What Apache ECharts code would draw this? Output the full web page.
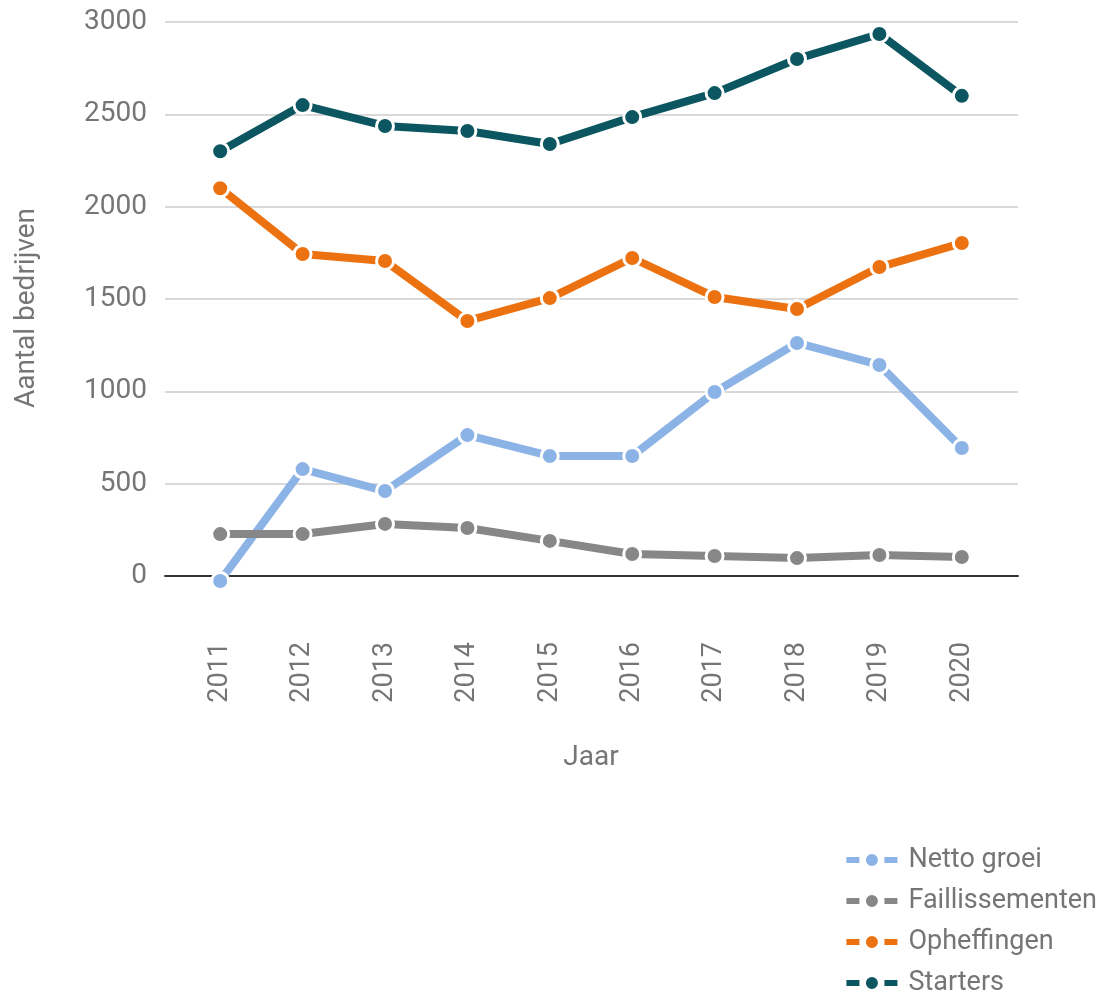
<!DOCTYPE html>
<html>
<head>
<meta charset="utf-8">
<script src="https://cdn.jsdelivr.net/npm/echarts@6/dist/echarts.min.js"></script>
<style>html,body{margin:0;padding:0;background:#fff}#c{width:1103px;height:998px}</style>
</head>
<body>
<div id="c"></div>
<script>
const years = ['2011','2012','2013','2014','2015','2016','2017','2018','2019','2020'];
const nettoGroei = [-27, 579, 460, 763, 650, 650, 996, 1262, 1143, 693];
const faillissementen = [227, 227, 282, 260, 190, 119, 108, 97, 114, 103];
const opheffingen = [2100, 1744, 1706, 1381, 1505, 1722, 1511, 1446, 1673, 1803];
const starters = [2300, 2550, 2437, 2410, 2339, 2485, 2615, 2800, 2935, 2600];
const yTicks = {min: 0, max: 3000, interval: 500};

const FONT = 'Roboto';
const GRAY = '#757575';
const iconPath = 'path://M0,3L13,3L13,9L0,9Z M19.5,6A6,6 0 1,1 31.5,6A6,6 0 1,1 19.5,6Z M38,3L51,3L51,9L38,9Z';

function mk(name, data, color) {
  return {
    name, type: 'line', data, xAxisIndex: 1, yAxisIndex: 1,
    clip: false,
    symbol: 'circle', symbolSize: 17, showSymbol: true,
    lineStyle: {color, width: 8},
    itemStyle: {color, borderColor: '#fff', borderWidth: 3},
    emphasis: {disabled: true},
    animation: false
  };
}

const chart = echarts.init(document.getElementById('c'), null, {renderer: 'canvas'});
chart.setOption({
  animation: false,
  textStyle: {fontFamily: FONT},
  grid: [
    {left: 165, right: 85, top: 22, bottom: 422},
    {left: 179, right: 100, top: 22, bottom: 422}
  ],
  xAxis: [
    {gridIndex: 0, type: 'category', data: years, axisLabel: {show: false}, axisTick: {show: false},
     axisLine: {show: true, lineStyle: {color: '#333', width: 2}}},
    {gridIndex: 1, type: 'category', data: years,
     axisLine: {show: false}, axisTick: {show: false},
     axisLabel: {rotate: 90, margin: 66, color: GRAY, fontSize: 27, fontFamily: FONT},
     name: 'Jaar', nameLocation: 'middle', nameGap: 168,
     nameTextStyle: {color: GRAY, fontSize: 28, fontFamily: FONT}}
  ],
  yAxis: [
    {gridIndex: 0, type: 'value', min: yTicks.min, max: yTicks.max, interval: yTicks.interval,
     axisLine: {show: false}, axisTick: {show: false},
     axisLabel: {color: GRAY, fontSize: 28, margin: 18, fontFamily: FONT, formatter: v => String(v)},
     splitLine: {lineStyle: {color: '#cccccc', width: 1.5}},
     name: 'Aantal bedrijven', nameLocation: 'middle', nameGap: 124,
     nameTextStyle: {color: GRAY, fontSize: 28, fontFamily: FONT, padding: [0, 18, 0, 0]}},
    {gridIndex: 1, type: 'value', min: yTicks.min, max: yTicks.max, interval: yTicks.interval,
     show: false, splitLine: {show: false}}
  ],
  legend: {
    orient: 'vertical', right: 6, top: 846, padding: 0, height: 152,
    itemWidth: 51, itemHeight: 12, itemGap: 13,
    icon: iconPath,
    itemStyle: {borderWidth: 0},
    textStyle: {color: GRAY, fontSize: 27, lineHeight: 28, fontFamily: FONT, padding: [0, 0, 0, 6]},
    data: ['Netto groei', 'Faillissementen', 'Opheffingen', 'Starters'],
    selectedMode: false
  },
  series: [
    mk('Netto groei', nettoGroei, '#8cb3e6'),
    mk('Faillissementen', faillissementen, '#878787'),
    mk('Opheffingen', opheffingen, '#ec7211'),
    mk('Starters', starters, '#0b5660')
  ]
});
</script>
</body>
</html>
